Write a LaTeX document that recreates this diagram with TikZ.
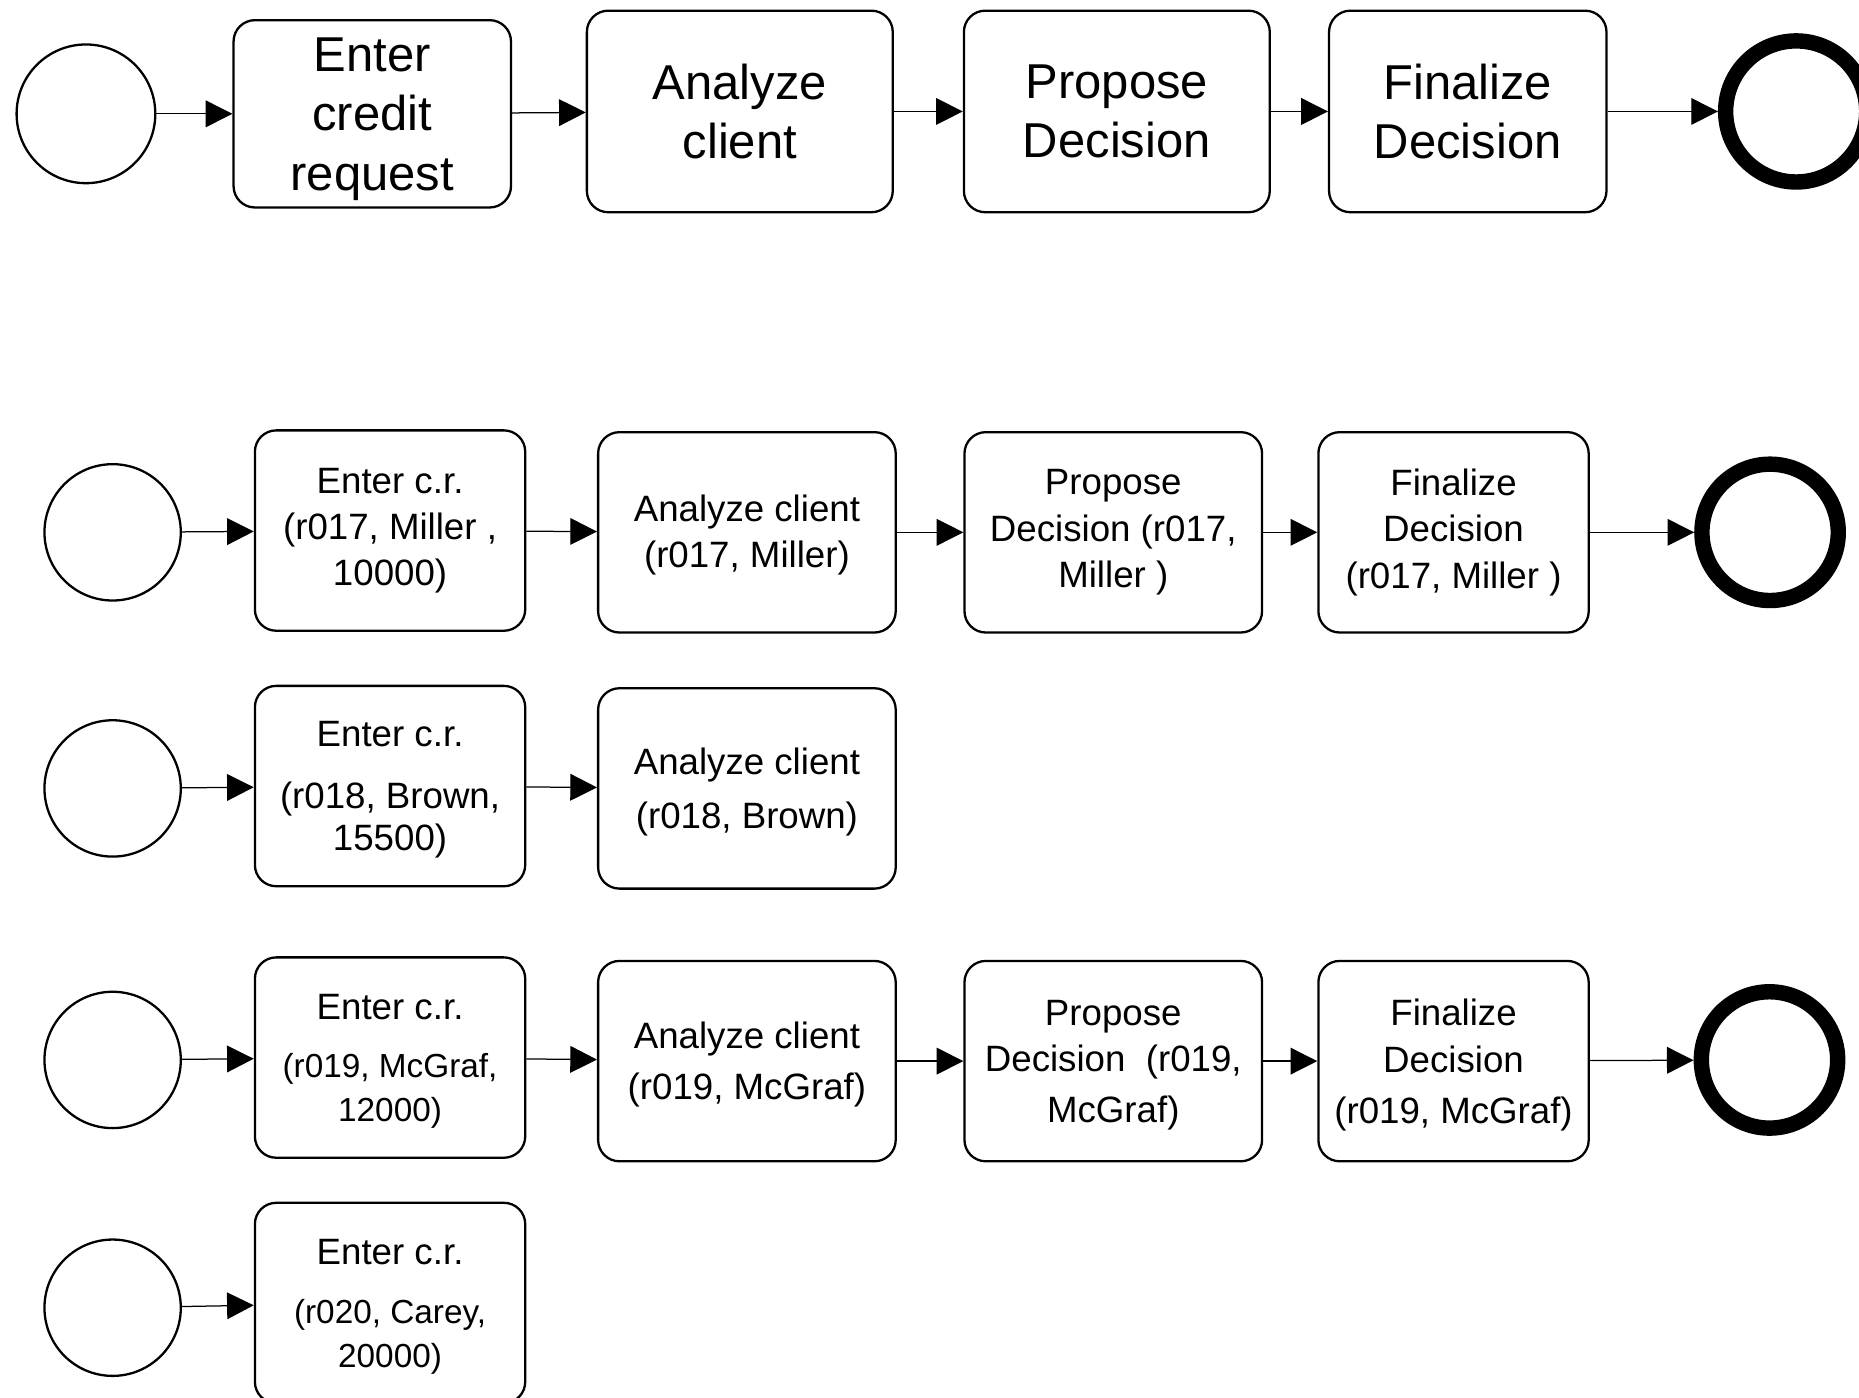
\documentclass[tikz,border=0pt]{standalone}
\usepackage{fontspec}
\setmainfont{Liberation Sans}
\usetikzlibrary{arrows.meta}
\newcommand{\smalltxt}{\fontsize{16}{19.5}\selectfont}
\begin{document}
\begin{tikzpicture}[
    task/.style={draw,line width=1.1pt,rounded corners=0.36cm,align=center,inner sep=0pt,
      minimum height=3.38cm,font=\fontsize{17.6}{22.2}\selectfont},
    narrow/.style={minimum width=4.56cm},
    wide/.style={minimum width=5.02cm},
    sink/.style={text depth=#1},
    bigtask/.style={task,font=\fontsize{23.5}{28.5}\selectfont},
    start/.style={draw,circle,line width=1.1pt,minimum size=2.3cm,inner sep=0pt},
    stop/.style={draw,circle,line width=0.26cm,minimum size=2.3cm,inner sep=0pt},
    flow/.style={-{Triangle[length=0.45cm,width=0.45cm]},line width=0.6pt}]
  \useasboundingbox (0,0) rectangle (31.36,-23.58);
  % generic process
  \node[start,minimum size=2.34cm] (s0) at (1.45,-1.92) {};
  \node[bigtask,sink=0cm,minimum width=4.68cm,minimum height=3.16cm] (t01) at (6.28,-1.92) {Enter\\credit\\request};
  \node[bigtask,minimum width=5.16cm,minimum height=3.4cm] (t02) at (12.48,-1.88) {Analyze\\client};
  \node[bigtask,minimum width=5.16cm,minimum height=3.4cm] (t03) at (18.84,-1.88) {Propose\\Decision};
  \node[bigtask,minimum width=4.68cm,minimum height=3.4cm] (t04) at (24.76,-1.88) {Finalize\\Decision};
  \node[stop,minimum size=2.38cm] (e0) at (30.3,-1.88) {};
  \draw[flow] (s0) -- (t01);
  \draw[flow] (t01) -- (t02);
  \draw[flow] (t02) -- (t03);
  \draw[flow] (t03) -- (t04);
  \draw[flow] (t04) -- (e0);
  % r017
  \node[start] (s1) at (1.9,-8.98) {};
  \node[task,narrow] (t11) at (6.58,-8.95) {Enter c.r.\\(r017, Miller ,\\10000)};
  \node[task,wide,sink=0.04cm] (t12) at (12.6,-8.98) {Analyze client\\(r017, Miller)};
  \node[task,wide] (t13) at (18.78,-8.98) {Propose\\Decision (r017,\\Miller )};
  \node[task,narrow] (t14) at (24.52,-8.98) {Finalize\\Decision\\(r017, Miller )};
  \node[stop] (e1) at (29.86,-8.98) {};
  \draw[flow] (s1) -- (t11);
  \draw[flow] (t11) -- (t12);
  \draw[flow] (t12) -- (t13);
  \draw[flow] (t13) -- (t14);
  \draw[flow] (t14) -- (e1);
  % r018
  \node[start] (s2) at (1.9,-13.3) {};
  \node[task,narrow,sink=-0.11cm] (t21) at (6.58,-13.26) {Enter c.r.\\[0.26cm](r018, Brown,\\[-0.06cm]15500)};
  \node[task,wide,sink=-0.15cm] (t22) at (12.6,-13.3) {Analyze client\\[0.14cm](r018, Brown)};
  \draw[flow] (s2) -- (t21);
  \draw[flow] (t21) -- (t22);
  % r019
  \node[start] (s3) at (1.9,-17.88) {};
  \node[task,narrow,sink=-0.06cm] (t31) at (6.58,-17.84) {Enter c.r.\\[0.2cm]\smalltxt(r019, McGraf,\\[-0.04cm]\smalltxt 12000)};
  \node[task,wide,sink=-0.04cm] (t32) at (12.6,-17.9) {Analyze client\\[0.08cm](r019, McGraf)};
  \node[task,wide,sink=-0.04cm] (t33) at (18.78,-17.9) {Propose\\Decision \ (r019,\\[0.08cm]McGraf)};
  \node[task,narrow,sink=-0.04cm] (t34) at (24.52,-17.9) {Finalize\\Decision\\[0.08cm](r019, McGraf)};
  \node[stop] (e3) at (29.85,-17.88) {};
  \draw[flow] (s3) -- (t31);
  \draw[flow] (t31) -- (t32);
  \draw[flow] (t32) -- (t33);
  \draw[flow] (t33) -- (t34);
  \draw[flow] (t34) -- (e3);
  % r020
  \node[start] (s4) at (1.9,-22.06) {};
  \node[task,narrow,sink=-0.08cm] (t41) at (6.58,-21.98) {Enter c.r.\\[0.22cm]\smalltxt(r020, Carey,\\[-0.04cm]\smalltxt 20000)};
  \draw[flow] (s4) -- (t41);
\end{tikzpicture}
\end{document}
